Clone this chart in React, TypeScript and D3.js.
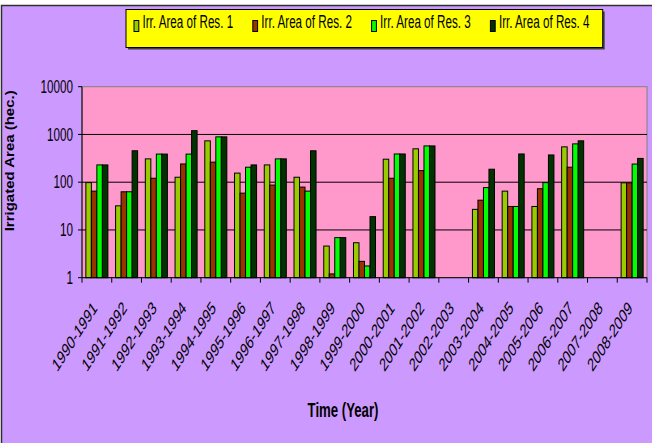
import React from "react";
import * as d3 from "d3";

const categories = [
  "1990-1991", "1991-1992", "1992-1993", "1993-1994", "1994-1995", "1995-1996",
  "1996-1997", "1997-1998", "1998-1999", "1999-2000", "2000-2001", "2001-2002",
  "2002-2003", "2003-2004", "2004-2005", "2005-2006", "2006-2007", "2007-2008", "2008-2009",
];
const seriesNames = ["Irr. Area of Res. 1", "Irr. Area of Res. 2", "Irr. Area of Res. 3", "Irr. Area of Res. 4"];
const res1 = [98, 32, 308, 127, 735, 155, 230, 127, 4.6, 5.4, 303, 500, null, 27, 65, 31, 550, null, 97];
const res2 = [65, 63, 121, 241, 263, 59, 87, 79, 1.2, 2.2, 121, 175, null, 42, 31, 73, 206, null, 97];
const res3 = [230, 63, 388, 388, 890, 206, 308, 65, 6.9, 1.76, 390, 575, null, 77, 31, 98, 635, null, 240];
const res4 = [230, 455, 388, 1200, 890, 230, 308, 455, 6.9, 19, 390, 575, null, 187, 390, 372, 735, null, 315];
const yTicks = [1, 10, 100, 1000, 10000];
const colors = ["#99CC00", "#993300", "#00FF00", "#003300"];

const FONT = "'Liberation Sans', Arial, sans-serif";

// rotate by -deg, then compress horizontally by k, then move to (tx, ty)
function rotScale(deg: number, k: number, tx: number, ty: number) {
  const t = (deg * Math.PI) / 180;
  const a = k * Math.cos(t), b = -Math.sin(t), c = k * Math.sin(t), d = Math.cos(t);
  return `matrix(${a},${b},${c},${d},${tx},${ty})`;
}

export default function App() {
  const series = [res1, res2, res3, res4];
  const left = 82, right = 647, top = 86.7, bottom = 277.7;
  const x = d3.scaleBand<string>().domain(categories).range([left, right]).paddingInner(0).paddingOuter(0);
  const xs = d3.scaleBand<string>().domain(seriesNames).range([0, x.bandwidth()]).paddingInner(0).paddingOuter(0.7);
  const y = d3.scaleLog().domain([1, 10000]).range([bottom, top]);
  const boundaries = categories.map((c) => x(c)!).concat([right]);

  return (
    <svg width={652} height={443} style={{ position: "absolute", left: 0, top: 0 }} fontFamily={FONT}>
      <rect x={0} y={0} width={652} height={443} fill="#ffffff" />
      <rect x={1.5} y={5.5} width={700} height={500} fill="#CC99FF" stroke="#303030" strokeWidth={1.5} />
      {/* legend */}
      <rect x={128} y={11.5} width={476.7} height={38} fill="#404040" />
      <rect x={126} y={9.5} width={476.7} height={38} fill="#FFFF00" stroke="#000" strokeWidth={1} />
      {seriesNames.map((s, i) => {
        const lx = 134 + i * 118.8;
        return (
          <g key={s}>
            <rect x={lx} y={20.5} width={4.8} height={11} fill={colors[i]} stroke="#000" strokeWidth={1} />
            <text transform={rotScale(0, 0.63, lx + 8.5, 27.5)} fontSize={18.5} fill="#000">{s}</text>
          </g>
        );
      })}
      {/* plot area */}
      <rect x={left} y={top} width={right - left} height={bottom - top} fill="#FF99CC" stroke="#808080" strokeWidth={1} />
      {[10, 100, 1000].map((v) => (
        <line key={v} x1={left} x2={right} y1={y(v)} y2={y(v)} stroke="#000" strokeWidth={1} />
      ))}
      {/* bars */}
      {categories.map((c, ci) => (
        <g key={c}>
          {series.map((arr, si) => {
            const v = arr[ci];
            if (v == null) return null;
            const bx = x(c)! + xs(seriesNames[si])!;
            return (
              <rect key={si} x={bx} y={y(v)} width={xs.bandwidth()} height={bottom - y(v)}
                fill={colors[si]} stroke="#000" strokeWidth={1} />
            );
          })}
        </g>
      ))}
      {/* axes */}
      <line x1={left} x2={left} y1={top} y2={bottom} stroke="#000" strokeWidth={1} />
      <line x1={left} x2={right} y1={bottom} y2={bottom} stroke="#000" strokeWidth={1} />
      {yTicks.map((t) => (
        <g key={t}>
          <line x1={left - 4} x2={left} y1={y(t)} y2={y(t)} stroke="#000" />
          <text transform={rotScale(0, 0.66, 73, y(t))} dy="0.35em" textAnchor="end" fontSize={17.7} fill="#000">{t}</text>
        </g>
      ))}
      {boundaries.map((b, i) => (
        <line key={i} x1={b} x2={b} y1={bottom} y2={bottom + 5} stroke="#000" />
      ))}
      {categories.map((c) => {
        const cx = x(c)! + x.bandwidth() / 2 + 1;
        return (
          <text key={c} transform={rotScale(46, 0.66, cx, 309)} textAnchor="end" fontSize={18.5} fill="#000">{c}</text>
        );
      })}
      <text transform={rotScale(0, 0.66, 343, 416.7)} textAnchor="middle" fontSize={20} fontWeight="bold" fill="#000">Time (Year)</text>
      <text transform={rotScale(90, 0.85, 14, 160.8)} textAnchor="middle" fontSize={15} fontWeight="bold" fill="#000">Irrigated Area (hec.)</text>
    </svg>
  );
}
